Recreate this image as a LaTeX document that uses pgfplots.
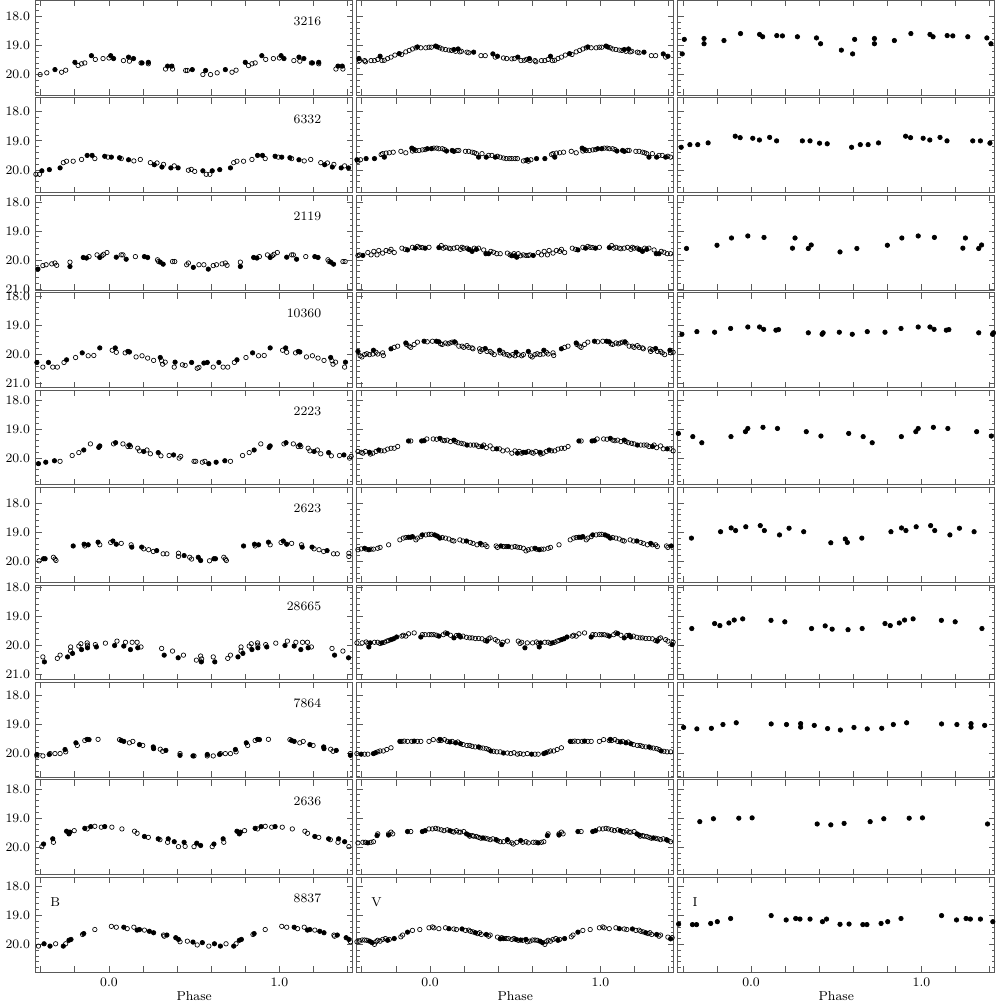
\documentclass[border=0pt]{standalone}
\usepackage{pgfplots}
\usepackage{pgfplotstable}
\usepgfplotslibrary{groupplots}
\pgfplotsset{compat=1.18}

\newcommand{\fsz}{\fontsize{7.8}{9.4}\selectfont}

% phase, magnitude, f = filled / o = open
\pgfplotstableread{
p m t
0.010 19.35 f
0.027 19.45 f
0.000 19.43 o
0.085 19.52 o
0.115 19.40 f
0.120 19.54 o
0.144 19.45 f
0.188 19.60 o
0.194 19.60 f
0.231 19.58 f
0.231 19.63 o
0.332 19.81 o
0.344 19.71 f
0.369 19.71 f
0.373 19.81 o
0.450 19.86 o
0.460 19.86 o
0.489 19.83 f
0.551 20.00 o
0.567 19.86 f
0.596 20.00 o
0.635 19.94 o
0.683 19.83 f
0.722 19.92 o
0.746 19.85 o
0.800 19.58 f
0.819 19.69 o
0.839 19.63 o
0.858 19.60 o
0.897 19.35 f
0.920 19.48 o
0.965 19.45 o
}\Ba
\pgfplotstableread{
p m t
0.008 19.06 o
0.033 19.02 f
0.043 19.05 f
0.058 19.08 o
0.072 19.12 o
0.091 19.14 o
0.111 19.16 o
0.126 19.17 o
0.140 19.14 f
0.150 19.20 o
0.165 19.12 f
0.175 19.22 o
0.184 19.20 o
0.217 19.23 o
0.227 19.25 o
0.256 19.23 f
0.299 19.35 o
0.324 19.35 o
0.369 19.29 f
0.383 19.40 o
0.396 19.37 f
0.431 19.43 o
0.450 19.45 o
0.480 19.46 o
0.495 19.45 o
0.515 19.40 f
0.534 19.52 o
0.553 19.51 o
0.567 19.48 o
0.583 19.45 f
0.586 19.52 o
0.616 19.52 o
0.621 19.56 o
0.654 19.52 o
0.674 19.52 o
0.693 19.48 o
0.707 19.37 f
0.718 19.52 o
0.732 19.51 o
0.751 19.45 o
0.771 19.40 o
0.794 19.33 o
0.819 19.28 f
0.833 19.31 o
0.858 19.22 o
0.878 19.17 o
0.897 19.12 o
0.917 19.08 o
0.926 19.05 f
0.946 19.08 o
0.975 19.08 o
0.994 19.06 o
}\Va
\pgfplotstableread{
p m t
0.050 18.62 f
0.068 18.70 f
0.151 18.66 f
0.184 18.67 f
0.272 18.70 f
0.384 18.74 f
0.408 18.94 f
0.530 19.16 f
0.596 19.29 f
0.608 18.79 f
0.724 18.76 f
0.724 18.94 f
0.841 18.83 f
0.938 18.59 f
}\Ia

\pgfplotstableread{
p m t
0.014 19.56 f
0.062 19.58 f
0.072 19.61 o
0.115 19.65 f
0.146 19.69 o
0.184 19.64 o
0.243 19.75 o
0.266 19.82 f
0.282 19.76 o
0.311 19.90 f
0.320 19.81 o
0.363 19.93 f
0.383 19.86 o
0.406 19.93 f
0.466 20.01 o
0.483 19.98 o
0.503 20.05 o
0.551 20.03 f
0.571 20.15 o
0.592 20.15 o
0.606 20.03 f
0.650 19.99 f
0.713 19.93 f
0.732 19.75 o
0.751 19.70 o
0.790 19.70 o
0.839 19.64 o
0.872 19.50 f
0.901 19.50 f
0.917 19.61 o
0.975 19.53 f
0.994 19.56 o
}\Bb
\pgfplotstableread{
p m t
0.008 19.27 f
0.023 19.25 o
0.039 19.25 o
0.052 19.27 o
0.072 19.27 o
0.085 19.30 o
0.097 19.35 f
0.130 19.33 f
0.140 19.36 f
0.159 19.33 o
0.169 19.33 o
0.208 19.36 o
0.227 19.36 o
0.247 19.39 o
0.260 19.41 o
0.272 19.44 o
0.285 19.56 f
0.305 19.44 o
0.330 19.56 f
0.344 19.50 o
0.363 19.50 o
0.383 19.56 f
0.396 19.53 o
0.412 19.56 o
0.431 19.59 o
0.447 19.61 o
0.466 19.61 o
0.480 19.61 o
0.499 19.61 o
0.513 19.61 o
0.548 19.69 o
0.563 19.67 o
0.571 19.65 f
0.577 19.70 o
0.592 19.65 o
0.625 19.61 f
0.674 19.61 f
0.713 19.47 o
0.722 19.44 o
0.732 19.56 f
0.742 19.42 o
0.761 19.41 o
0.784 19.39 o
0.829 19.36 o
0.858 19.41 o
0.893 19.25 f
0.897 19.35 o
0.907 19.30 f
0.917 19.33 o
0.936 19.33 o
0.955 19.31 o
0.971 19.30 o
0.984 19.27 f
}\Vb
\pgfplotstableread{
p m t
0.010 18.91 f
0.049 18.97 f
0.109 18.88 f
0.150 19.00 f
0.301 19.00 f
0.346 19.00 f
0.402 19.08 f
0.447 19.10 f
0.590 19.22 f
0.641 19.13 f
0.687 19.13 f
0.748 19.07 f
0.907 18.84 f
0.936 18.89 f
}\Ib

\pgfplotstableread{
p m t
0.043 19.90 f
0.072 19.82 o
0.082 19.82 o
0.101 19.97 f
0.155 19.88 o
0.208 19.88 f
0.227 19.91 f
0.285 19.99 o
0.291 20.05 o
0.301 20.07 f
0.318 20.14 f
0.373 20.05 o
0.386 20.05 o
0.456 20.16 o
0.466 20.10 o
0.495 20.25 f
0.528 20.16 o
0.557 20.16 o
0.583 20.31 f
0.612 20.19 o
0.631 20.16 o
0.664 20.13 o
0.683 20.10 o
0.693 20.18 o
0.771 20.22 f
0.771 20.07 o
0.849 19.91 f
0.868 19.93 f
0.883 19.88 o
0.930 19.82 o
0.946 19.91 f
0.959 19.85 o
0.969 19.80 o
0.988 19.74 o
}\Bc
\pgfplotstableread{
p m t
0.052 19.57 f
0.066 19.50 o
0.078 19.59 o
0.091 19.56 o
0.111 19.59 o
0.120 19.61 o
0.140 19.59 o
0.159 19.56 o
0.179 19.63 o
0.188 19.56 o
0.198 19.59 o
0.217 19.59 o
0.227 19.63 f
0.237 19.65 o
0.247 19.70 f
0.260 19.59 o
0.272 19.63 f
0.285 19.59 o
0.315 19.65 o
0.328 19.78 f
0.344 19.78 f
0.357 19.70 o
0.373 19.73 o
0.392 19.78 o
0.412 19.78 o
0.454 19.76 o
0.470 19.82 o
0.480 19.85 f
0.493 19.78 o
0.499 19.85 f
0.509 19.90 f
0.518 19.78 o
0.532 19.85 o
0.548 19.82 o
0.563 19.84 o
0.577 19.84 o
0.586 19.82 o
0.606 19.84 f
0.635 19.74 o
0.654 19.82 o
0.670 19.70 o
0.689 19.82 o
0.699 19.67 o
0.722 19.76 o
0.742 19.67 o
0.761 19.70 o
0.771 19.63 o
0.790 19.74 o
0.835 19.59 o
0.854 19.63 o
0.868 19.65 f
0.897 19.56 o
0.913 19.59 f
0.926 19.53 o
0.940 19.56 o
0.955 19.57 o
0.971 19.59 f
0.994 19.56 o
}\Vc
\pgfplotstableread{
p m t
0.076 19.22 f
0.243 19.59 f
0.258 19.24 f
0.336 19.60 f
0.353 19.48 f
0.522 19.72 f
0.621 19.60 f
0.800 19.49 f
0.885 19.24 f
0.981 19.17 f
}\Ic

\pgfplotstableread{
p m t
0.019 19.86 o
0.037 19.78 f
0.043 19.93 o
0.095 19.95 o
0.111 19.90 f
0.120 19.92 f
0.159 20.09 o
0.194 20.05 o
0.227 20.13 o
0.262 20.21 o
0.301 20.11 f
0.309 20.22 o
0.315 20.34 o
0.330 20.27 o
0.383 20.44 o
0.388 20.27 f
0.431 20.36 o
0.447 20.38 o
0.485 20.28 f
0.518 20.48 o
0.528 20.45 o
0.557 20.30 f
0.577 20.28 f
0.612 20.44 o
0.645 20.28 f
0.670 20.44 o
0.697 20.44 o
0.736 20.28 o
0.751 20.19 f
0.804 20.11 o
0.843 19.95 f
0.878 20.05 o
0.911 20.04 o
0.946 19.78 f
}\Bd
\pgfplotstableread{
p m t
0.014 19.55 o
0.037 19.55 f
0.052 19.57 f
0.062 19.64 o
0.072 19.66 o
0.091 19.61 o
0.105 19.64 o
0.117 19.61 o
0.130 19.58 o
0.144 19.57 f
0.150 19.61 o
0.169 19.72 o
0.188 19.72 o
0.198 19.76 o
0.217 19.70 o
0.227 19.76 o
0.247 19.78 o
0.252 19.81 o
0.291 19.81 o
0.295 19.90 o
0.305 19.84 o
0.324 19.80 f
0.334 19.90 o
0.353 19.90 o
0.363 19.95 o
0.377 20.01 o
0.408 19.86 f
0.412 19.95 o
0.427 19.93 o
0.435 19.99 o
0.454 20.01 o
0.466 20.05 o
0.485 20.01 o
0.505 19.93 f
0.499 20.05 o
0.518 20.01 o
0.538 20.05 o
0.548 20.01 o
0.577 19.90 f
0.590 20.05 o
0.600 20.09 o
0.616 20.01 o
0.629 19.98 o
0.645 20.01 o
0.668 19.86 f
0.664 19.99 o
0.683 19.93 o
0.693 19.99 o
0.722 19.95 o
0.726 20.04 o
0.771 19.81 f
0.790 19.76 o
0.810 19.72 o
0.858 19.61 f
0.862 19.66 o
0.878 19.72 o
0.887 19.76 o
0.907 19.66 o
0.926 19.58 o
0.965 19.55 f
0.984 19.57 o
}\Vd
\pgfplotstableread{
p m t
0.050 19.06 f
0.074 19.14 f
0.146 19.17 f
0.161 19.15 f
0.336 19.26 f
0.417 19.31 f
0.423 19.26 f
0.518 19.24 f
0.594 19.31 f
0.682 19.22 f
0.786 19.24 f
0.880 19.11 f
0.981 19.06 f
}\Id

\pgfplotstableread{
p m t
0.027 19.51 o
0.039 19.47 f
0.082 19.51 o
0.111 19.60 o
0.120 19.55 f
0.126 19.60 o
0.169 19.66 o
0.179 19.75 o
0.204 19.77 f
0.223 19.72 o
0.243 19.85 o
0.289 19.81 f
0.305 19.92 o
0.353 19.91 o
0.379 19.89 f
0.412 20.00 o
0.421 19.94 o
0.499 20.11 o
0.509 20.11 o
0.548 20.14 o
0.563 20.11 o
0.586 20.19 f
0.629 20.14 f
0.680 20.09 f
0.713 20.11 o
0.784 19.91 o
0.823 19.81 o
0.852 19.72 f
0.891 19.51 o
0.940 19.63 f
0.946 19.58 f
}\Be
\pgfplotstableread{
p m t
0.019 19.34 o
0.039 19.35 o
0.058 19.32 f
0.072 19.38 o
0.085 19.40 o
0.101 19.38 o
0.120 19.43 o
0.140 19.38 f
0.150 19.43 o
0.165 19.47 o
0.183 19.49 o
0.198 19.51 o
0.217 19.55 f
0.237 19.55 o
0.256 19.55 o
0.272 19.55 o
0.285 19.60 o
0.305 19.60 f
0.315 19.55 o
0.330 19.64 o
0.353 19.58 o
0.369 19.68 o
0.392 19.68 f
0.408 19.68 o
0.427 19.75 o
0.454 19.72 o
0.480 19.83 o
0.499 19.75 o
0.513 19.83 f
0.524 19.77 o
0.538 19.83 o
0.548 19.80 f
0.563 19.80 f
0.577 19.77 o
0.596 19.80 o
0.606 19.83 o
0.621 19.77 o
0.645 19.80 f
0.650 19.86 o
0.664 19.83 o
0.683 19.77 o
0.699 19.72 f
0.713 19.75 o
0.732 19.75 o
0.751 19.69 o
0.771 19.66 o
0.790 19.66 o
0.810 19.60 o
0.874 19.41 f
0.887 19.41 o
0.951 19.41 f
0.965 19.40 f
0.981 19.34 o
}\Ve
\pgfplotstableread{
p m t
0.070 18.94 f
0.155 18.98 f
0.324 19.09 f
0.410 19.24 f
0.573 19.15 f
0.658 19.26 f
0.711 19.47 f
0.882 19.26 f
0.967 19.09 f
0.981 18.98 f
}\Ie

\pgfplotstableread{
p m t
0.010 19.35 o
0.023 19.30 f
0.043 19.41 f
0.072 19.38 o
0.130 19.43 o
0.134 19.51 f
0.192 19.51 f
0.204 19.57 o
0.233 19.60 o
0.260 19.66 o
0.280 19.63 f
0.318 19.74 o
0.340 19.74 o
0.408 19.72 o
0.408 19.83 o
0.441 19.80 f
0.474 19.86 o
0.485 19.92 o
0.524 19.86 f
0.538 19.97 f
0.590 19.98 o
0.616 19.91 f
0.625 19.91 f
0.674 19.86 o
0.683 19.92 o
0.689 19.97 o
0.790 19.47 f
0.854 19.41 f
0.858 19.47 o
0.878 19.43 f
0.936 19.34 f
0.946 19.43 o
}\Bf
\pgfplotstableread{
p m t
0.008 19.07 o
0.027 19.09 f
0.043 19.13 f
0.058 19.20 f
0.072 19.18 o
0.091 19.20 o
0.111 19.23 o
0.130 19.28 o
0.140 19.30 o
0.175 19.26 o
0.194 19.30 o
0.214 19.30 f
0.237 19.35 o
0.252 19.38 o
0.276 19.43 o
0.295 19.38 f
0.305 19.43 o
0.324 19.43 o
0.334 19.49 o
0.388 19.47 o
0.396 19.52 o
0.416 19.47 f
0.431 19.49 o
0.447 19.49 o
0.460 19.49 f
0.480 19.51 o
0.499 19.49 o
0.513 19.51 o
0.528 19.52 o
0.548 19.55 o
0.563 19.64 o
0.577 19.60 o
0.596 19.57 o
0.616 19.55 f
0.625 19.58 o
0.641 19.60 f
0.654 19.58 o
0.668 19.58 o
0.693 19.55 o
0.707 19.52 o
0.757 19.43 o
0.823 19.26 o
0.843 19.20 o
0.858 19.18 o
0.874 19.17 f
0.887 19.17 f
0.897 19.15 f
0.917 19.26 o
0.926 19.20 o
0.946 19.15 o
0.955 19.09 f
0.975 19.09 o
0.994 19.07 o
}\Vf
\pgfplotstableread{
p m t
0.054 18.77 f
0.078 18.94 f
0.167 19.09 f
0.223 18.86 f
0.309 18.98 f
0.468 19.36 f
0.553 19.23 f
0.565 19.35 f
0.650 19.20 f
0.821 18.98 f
0.883 18.85 f
0.909 18.94 f
0.969 18.81 f
}\If

\pgfplotstableread{
p m t
0.033 20.00 f
0.047 19.85 o
0.087 20.02 f
0.097 19.89 o
0.126 20.14 f
0.136 19.89 o
0.165 19.89 o
0.169 20.08 f
0.188 20.05 o
0.309 20.10 o
0.324 20.33 f
0.373 20.19 o
0.406 20.42 f
0.437 20.33 o
0.513 20.50 o
0.538 20.36 o
0.542 20.56 f
0.544 20.46 o
0.612 20.39 o
0.621 20.56 f
0.697 20.44 o
0.713 20.33 o
0.757 20.39 f
0.775 20.05 o
0.775 20.19 o
0.786 20.27 f
0.823 20.02 o
0.839 20.14 f
0.835 19.94 o
0.872 19.91 o
0.874 20.08 f
0.874 19.99 o
0.920 19.97 o
0.926 20.05 f
0.979 19.92 o
}\Bg
\pgfplotstableread{
p m t
0.008 19.63 o
0.023 19.63 o
0.039 19.65 o
0.052 19.68 f
0.078 19.63 o
0.091 19.57 o
0.101 19.59 f
0.120 19.65 o
0.140 19.74 f
0.155 19.66 o
0.169 19.65 f
0.179 19.71 f
0.194 19.68 o
0.214 19.72 o
0.233 19.74 o
0.247 19.74 o
0.266 19.76 o
0.285 19.76 o
0.305 19.77 o
0.324 19.83 o
0.334 19.85 f
0.344 19.77 o
0.353 19.74 o
0.383 19.80 o
0.396 19.85 o
0.421 19.97 f
0.427 19.89 o
0.454 19.85 o
0.518 19.85 o
0.528 19.93 o
0.538 19.89 o
0.557 20.08 f
0.571 19.91 o
0.602 19.91 o
0.625 19.88 o
0.635 19.93 o
0.641 20.05 f
0.649 19.91 f
0.674 19.89 o
0.693 19.89 o
0.707 19.93 o
0.718 19.91 f
0.732 19.89 o
0.746 19.85 o
0.757 19.83 o
0.771 19.80 f
0.786 19.77 f
0.804 19.71 f
0.835 19.68 o
0.843 19.65 o
0.858 19.68 o
0.874 19.60 o
0.907 19.57 o
0.946 19.71 f
0.955 19.63 o
0.971 19.63 o
0.994 19.63 o
}\Vg
\pgfplotstableread{
p m t
0.117 19.14 f
0.198 19.19 f
0.355 19.42 f
0.435 19.33 f
0.476 19.44 f
0.569 19.46 f
0.652 19.42 f
0.786 19.25 f
0.817 19.32 f
0.870 19.23 f
0.901 19.13 f
0.951 19.09 f
}\Ig

\pgfplotstableread{
p m t
0.062 19.52 o
0.072 19.55 f
0.087 19.58 f
0.120 19.63 o
0.140 19.58 o
0.179 19.69 f
0.198 19.72 o
0.260 19.77 f
0.262 19.83 f
0.301 19.85 o
0.315 19.92 o
0.334 19.89 f
0.417 20.06 f
0.417 20.00 o
0.493 20.08 f
0.499 20.08 o
0.577 20.03 f
0.577 20.08 o
0.612 20.08 o
0.649 20.03 f
0.654 20.00 o
0.683 20.00 o
0.713 20.00 o
0.742 19.86 f
0.746 19.94 o
0.806 19.63 f
0.814 19.72 o
0.858 19.55 o
0.872 19.51 f
0.883 19.52 f
0.936 19.51 o
}\Bh
\pgfplotstableread{
p m t
0.019 19.52 o
0.052 19.55 o
0.058 19.51 f
0.066 19.55 o
0.085 19.52 o
0.101 19.58 o
0.117 19.60 f
0.130 19.58 o
0.150 19.63 f
0.163 19.60 o
0.179 19.66 f
0.194 19.69 o
0.217 19.72 o
0.233 19.72 o
0.247 19.75 o
0.266 19.77 o
0.285 19.77 f
0.295 19.80 o
0.311 19.81 o
0.330 19.83 o
0.344 19.86 o
0.357 19.91 f
0.373 19.92 o
0.392 19.94 o
0.412 19.94 o
0.431 19.98 f
0.454 19.98 o
0.474 20.00 o
0.493 19.97 o
0.513 20.02 o
0.528 20.00 o
0.548 20.02 o
0.571 20.00 o
0.596 20.02 f
0.616 20.02 o
0.635 20.02 o
0.668 20.00 f
0.680 19.97 f
0.693 19.94 o
0.707 19.91 o
0.726 19.91 o
0.746 19.86 o
0.771 19.80 o
0.823 19.58 f
0.835 19.58 o
0.849 19.57 o
0.868 19.58 o
0.893 19.58 o
0.907 19.57 f
0.926 19.58 o
0.946 19.58 o
0.994 19.58 o
}\Vh
\pgfplotstableread{
p m t
0.118 18.98 f
0.208 19.00 f
0.291 18.97 f
0.291 19.09 f
0.371 19.03 f
0.449 19.14 f
0.524 19.19 f
0.604 19.10 f
0.682 19.15 f
0.767 19.13 f
0.835 19.00 f
0.913 18.94 f
}\Ih

\pgfplotstableread{
p m t
0.017 19.31 o
0.076 19.37 o
0.150 19.45 o
0.165 19.52 o
0.208 19.63 f
0.231 19.66 o
0.289 19.71 f
0.299 19.74 o
0.348 19.71 f
0.344 19.83 o
0.383 19.81 f
0.408 19.98 o
0.441 19.83 f
0.447 19.97 o
0.499 19.98 o
0.515 19.86 f
0.538 19.94 f
0.606 19.98 o
0.616 19.89 f
0.670 19.71 f
0.674 19.83 o
0.751 19.45 f
0.765 19.54 f
0.771 19.48 f
0.796 19.43 o
0.858 19.35 f
0.872 19.37 o
0.893 19.29 f
0.917 19.28 o
0.955 19.31 o
0.975 19.29 f
}\Bi
\pgfplotstableread{
p m t
0.014 19.37 o
0.033 19.35 o
0.047 19.37 o
0.066 19.40 o
0.082 19.43 o
0.101 19.40 o
0.117 19.43 f
0.130 19.46 o
0.140 19.48 o
0.155 19.43 o
0.169 19.48 o
0.179 19.48 o
0.198 19.46 o
0.214 19.54 f
0.227 19.58 f
0.233 19.62 o
0.247 19.60 o
0.256 19.62 o
0.272 19.63 o
0.285 19.66 o
0.299 19.69 o
0.311 19.68 f
0.324 19.69 o
0.338 19.71 o
0.353 19.74 o
0.369 19.71 o
0.388 19.74 f
0.396 19.77 o
0.412 19.81 o
0.431 19.81 o
0.454 19.74 f
0.460 19.81 o
0.480 19.85 o
0.489 19.89 o
0.509 19.83 o
0.532 19.77 f
0.544 19.83 o
0.563 19.81 o
0.577 19.85 o
0.606 19.83 o
0.621 19.83 o
0.635 19.85 f
0.654 19.83 o
0.668 19.81 o
0.689 19.60 f
0.693 19.54 o
0.757 19.54 o
0.757 19.58 f
0.771 19.48 o
0.781 19.54 o
0.868 19.46 f
0.887 19.46 o
0.955 19.46 f
0.971 19.43 f
0.994 19.37 o
}\Vi
\pgfplotstableread{
p m t
0.006 18.99 f
0.388 19.20 f
0.468 19.23 f
0.546 19.18 f
0.699 19.12 f
0.779 19.02 f
0.928 19.00 f
}\Ii

\pgfplotstableread{
p m t
0.014 19.38 o
0.043 19.41 o
0.087 19.41 f
0.107 19.46 o
0.146 19.41 o
0.165 19.51 f
0.179 19.49 f
0.208 19.51 o
0.237 19.55 f
0.262 19.60 f
0.320 19.68 o
0.324 19.72 o
0.340 19.68 f
0.392 19.77 f
0.408 19.83 f
0.417 19.91 o
0.460 19.89 o
0.493 19.92 f
0.518 20.02 o
0.548 19.94 f
0.586 20.06 o
0.619 19.98 f
0.654 20.06 f
0.687 19.98 o
0.732 20.06 f
0.746 19.98 o
0.765 19.86 f
0.777 19.83 f
0.845 19.66 o
0.852 19.63 f
0.917 19.49 o
}\Bj
\pgfplotstableread{
p m t
0.014 19.40 o
0.023 19.43 o
0.052 19.46 o
0.091 19.43 o
0.111 19.46 f
0.140 19.47 o
0.155 19.49 o
0.188 19.47 f
0.208 19.52 o
0.227 19.51 o
0.237 19.55 o
0.252 19.57 o
0.266 19.60 f
0.280 19.63 o
0.291 19.60 o
0.301 19.66 o
0.330 19.66 f
0.344 19.72 o
0.353 19.68 o
0.396 19.75 o
0.412 19.81 f
0.421 19.77 o
0.431 19.80 f
0.447 19.80 o
0.460 19.80 o
0.480 19.83 o
0.493 19.80 o
0.505 19.83 f
0.518 19.86 o
0.532 19.85 f
0.544 19.86 o
0.563 19.83 f
0.571 19.91 o
0.586 19.89 o
0.602 19.85 o
0.616 19.85 o
0.629 19.86 o
0.645 19.89 f
0.660 19.94 f
0.674 20.00 o
0.683 19.91 o
0.693 19.86 o
0.707 19.89 o
0.722 19.83 o
0.738 19.80 o
0.751 19.86 f
0.761 19.83 o
0.790 19.80 f
0.829 19.74 o
0.839 19.68 o
0.868 19.58 f
0.897 19.52 o
0.940 19.49 o
0.994 19.43 o
}\Vj
\pgfplotstableread{
p m t
0.118 19.01 f
0.206 19.16 f
0.262 19.11 f
0.287 19.13 f
0.346 19.13 f
0.419 19.22 f
0.443 19.13 f
0.522 19.31 f
0.575 19.30 f
0.656 19.32 f
0.680 19.32 f
0.763 19.28 f
0.802 19.22 f
0.880 19.11 f
}\Ij

\pgfplotsset{
  lc/.style={only marks, scatter, scatter src=explicit symbolic, mark size=1.35pt,
    scatter/classes={
      f={mark=*, draw=black, fill=black},
      o={mark=o, draw=black, mark options={line width=0.35pt}}}},
}
% each folded light curve is shown over two cycles
\newcommand{\lc}[1]{%
  \addplot[lc] table[x expr=\thisrow{p}-1, y=m, meta=t] {#1};
  \addplot[lc] table[x=p, y=m, meta=t] {#1};
  \addplot[lc] table[x expr=\thisrow{p}+1, y=m, meta=t] {#1};
}
\newcommand{\lcrow}[6]{%
  \nextgroupplot[ymin=#1, ymax=#2]
  \lc{#4}
  \node[anchor=east, font=\fsz] at (axis description cs:0.919,0.777) {#3};
  \nextgroupplot[ymin=#1, ymax=#2]
  \lc{#5}
  \nextgroupplot[ymin=#1, ymax=#2]
  \lc{#6}
}

\begin{document}
\begin{tikzpicture}
\begin{groupplot}[
  group style={group size=3 by 10, horizontal sep=2.5pt, vertical sep=1.6pt,
    xticklabels at=edge bottom, yticklabels at=edge left, xlabels at=edge bottom},
  scale only axis, width=191.6pt, height=57.3pt,
  xmin=-0.43, xmax=1.43, y dir=reverse,
  xtick={-0.4,-0.2,0,0.2,0.4,0.6,0.8,1,1.2,1.4},
  xticklabels={,,0.0,,,,,1.0,,},
  ytick={18,19,20,21}, yticklabels={18.0,19.0,20.0,21.0},
  minor y tick num=4,
  tick align=inside, major tick length=3.6pt, minor tick length=1.8pt,
  axis line style={draw=black!65, line width=0.5pt},
  every tick/.style={black!65, line width=0.5pt},
  tick label style={font=\fsz},
  xlabel={Phase}, xlabel style={font=\fsz, yshift=4pt},
]
% top row: the 18.0 tick is given as an extra tick
\nextgroupplot[ymin=17.45, ymax=20.71,
  ytick={19,20}, yticklabels={19.0,20.0},
  minor ytick={17.6,17.8,18.2,18.4,18.6,18.8,19.2,19.4,19.6,19.8,20.2,20.4,20.6},
  extra y ticks={18}, extra y tick labels={18.0},
  extra y tick style={tick label style={font=\fsz}}]
\lc{\Ba}
\node[anchor=east, font=\fsz] at (axis description cs:0.919,0.777) {3216};
\nextgroupplot[ymin=17.45, ymax=20.71]
\lc{\Va}
\nextgroupplot[ymin=17.45, ymax=20.71]
\lc{\Ia}
\lcrow{17.52}{20.78}{6332}{\Bb}{\Vb}{\Ib}
\lcrow{17.77}{21.03}{2119}{\Bc}{\Vc}{\Ic}
\lcrow{17.88}{21.14}{10360}{\Bd}{\Vd}{\Id}
\lcrow{17.66}{20.92}{2223}{\Be}{\Ve}{\Ie}
\lcrow{17.46}{20.72}{2623}{\Bf}{\Vf}{\If}
\lcrow{17.93}{21.17}{28665}{\Bg}{\Vg}{\Ig}
\lcrow{17.55}{20.81}{7864}{\Bh}{\Vh}{\Ih}
\lcrow{17.68}{20.94}{2636}{\Bi}{\Vi}{\Ii}
\nextgroupplot[ymin=17.69, ymax=20.95]
\lc{\Bj}
\node[anchor=east, font=\fsz] at (axis description cs:0.919,0.777) {8837};
\node[anchor=west, font=\fsz] at (axis description cs:0.028,0.74) {B};
\nextgroupplot[ymin=17.69, ymax=20.95]
\lc{\Vj}
\node[anchor=west, font=\fsz] at (axis description cs:0.028,0.74) {V};
\nextgroupplot[ymin=17.69, ymax=20.95]
\lc{\Ij}
\node[anchor=west, font=\fsz] at (axis description cs:0.028,0.74) {I};
\end{groupplot}
\end{tikzpicture}
\end{document}
